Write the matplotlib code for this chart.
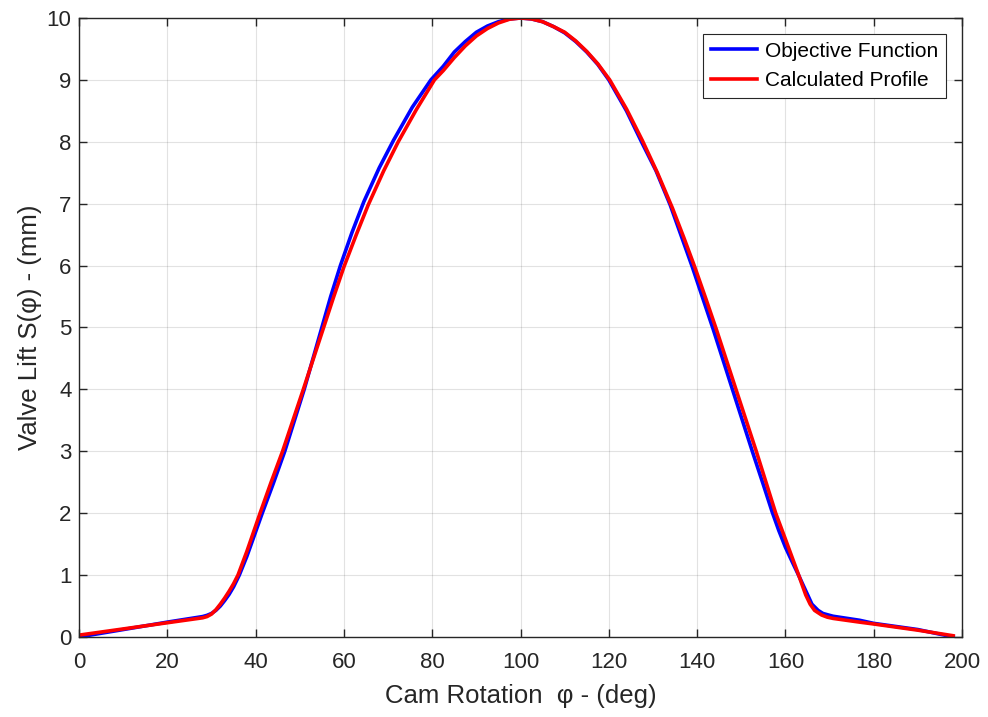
#!/usr/bin/env python3
"""Cam valve lift: objective function vs calculated profile."""

import matplotlib
matplotlib.use("Agg")
import matplotlib.pyplot as plt

plt.rcParams["font.family"] = ["Liberation Sans", "DejaVu Sans"]

# -- Data --------------------------------------------------
obj_deg = [0, 10, 20, 28, 29, 30, 31, 32, 33, 34, 35, 36.3, 38, 41.5, 44,
           46.6, 48.8, 51, 53, 55, 57, 59.2, 61.8, 64.5, 68, 71.2, 75.5,
           79.7, 82.5, 85, 87.5, 90, 92.5, 95, 97.5, 100, 102.5, 105, 107.5,
           110, 112.5, 115, 117.5, 120, 124, 127.4, 130.7, 133.9, 136.4,
           138.9, 141.2, 143.6, 148, 152.5, 155, 157, 158.5, 160, 161.5,
           163.1, 164, 165.1, 166, 167.4, 168.5, 170, 170.8, 176.8, 180,
           190, 198]
obj_lift = [0.00, 0.12, 0.24, 0.33, 0.35, 0.38, 0.43, 0.50, 0.59, 0.69, 0.81,
            1.00, 1.30, 2.00, 2.48, 3.00, 3.50, 4.00, 4.50, 5.00, 5.50, 6.00,
            6.53, 7.03, 7.58, 8.02, 8.56, 9.00, 9.22, 9.45, 9.62, 9.77, 9.87,
            9.94, 9.985, 10.0, 9.985, 9.94, 9.86, 9.76, 9.62, 9.45, 9.25,
            9.00, 8.50, 8.00, 7.53, 6.98, 6.48, 5.98, 5.49, 4.98, 4.00, 3.00,
            2.46, 2.02, 1.72, 1.45, 1.22, 0.98, 0.84, 0.67, 0.53, 0.43, 0.38,
            0.35, 0.335, 0.27, 0.22, 0.12, 0.00]

calc_deg = [0, 10, 20, 28, 29, 30, 31, 32, 33, 34, 35, 36, 38, 41.0, 43.5,
            46.1, 50.8, 55.4, 57.7, 60, 62.8, 65.5, 69, 72.3, 76.4, 80.5,
            82.5, 85, 87.5, 90, 92.5, 95, 97.5, 100, 102.5, 105, 107.5, 110,
            112.5, 115, 117.5, 120.2, 124, 127.6, 131, 134.4, 137, 139.5, 142,
            144.4, 148.8, 153.4, 157.8, 160, 163.1, 164.6, 165.6, 166.6,
            168.2, 169.5, 170.8, 176.8, 180, 190, 198]
calc_lift = [0.03, 0.13, 0.23, 0.31, 0.33, 0.37, 0.44, 0.53, 0.63, 0.74, 0.86,
             1.00, 1.38, 2.00, 2.50, 3.00, 4.00, 5.00, 5.50, 5.98, 6.50, 6.98,
             7.53, 8.00, 8.52, 9.00, 9.15, 9.36, 9.55, 9.71, 9.83, 9.92, 9.98,
             10.0, 9.985, 9.94, 9.86, 9.77, 9.63, 9.46, 9.26, 9.00, 8.53, 8.02,
             7.50, 6.93, 6.45, 5.97, 5.46, 4.96, 4.00, 3.00, 2.00, 1.58, 0.98,
             0.68, 0.53, 0.43, 0.355, 0.32, 0.30, 0.24, 0.21, 0.11, 0.02]

x_ticks = list(range(0, 201, 20))
y_ticks = list(range(0, 11))

# -- Plot --------------------------------------------------
fig = plt.figure(figsize=(9.88, 7.17), dpi=100)
ax = fig.add_axes([0.080, 0.1116, 0.8937, 0.8633])

ax.plot(obj_deg, obj_lift, color="#0000ff", linewidth=2.6, label="Objective Function")
ax.plot(calc_deg, calc_lift, color="#ff0000", linewidth=2.6, label="Calculated Profile")

ax.set_xlim(0, 200)
ax.set_ylim(0, 10)
ax.set_xticks(x_ticks)
ax.set_yticks(y_ticks)
ax.grid(color="#262626", alpha=0.13, linewidth=0.8)
ax.tick_params(direction="in", length=6, width=1, colors="#262626",
               labelsize=16, top=True, right=True)
ax.tick_params(axis="x", pad=11)
ax.tick_params(axis="y", pad=5.5)
for sp in ax.spines.values():
    sp.set_color("#262626")
    sp.set_linewidth(1)

ax.set_xlabel("Cam Rotation  \u03c6 - (deg)", fontsize=18.5, color="#262626", labelpad=8)
ax.set_ylabel("Valve Lift S(\u03c6) - (mm)", fontsize=18.5, color="#262626", labelpad=3)

leg = ax.legend(loc="upper right", fontsize=15, fancybox=False, framealpha=1,
                edgecolor="#262626", borderaxespad=0.75, handlelength=2.2,
                borderpad=0.38, labelspacing=0.5, handletextpad=0.4)
leg.get_frame().set_linewidth(0.8)

fig.savefig("out.png", dpi=100)
